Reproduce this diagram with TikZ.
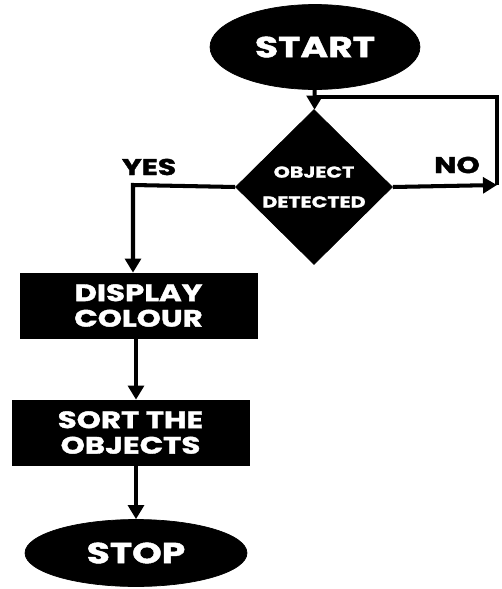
\documentclass[tikz,border=0pt]{standalone}
\usepackage{fontspec}
\newfontfamily\flowfont{Poppins}[BoldFont={* Bold}, BoldFeatures={FakeBold=1.6}, FakeStretch=1.3]
\usetikzlibrary{shapes.geometric,arrows.meta,positioning,calc}

\begin{document}
\begin{tikzpicture}[x=0.02cm, y=-0.02cm, >={Triangle[length=8pt,width=9pt]},
    term/.style={draw, fill=black, ellipse, inner sep=0pt, text=white, font=\flowfont\bfseries\fontsize{16.5}{18}\selectfont},
    proc/.style={draw, fill=black, rectangle, inner sep=0pt, minimum width=4.74cm, minimum height=1.3cm, align=center, text=white, font=\flowfont\bfseries\fontsize{13.5}{14.5}\selectfont},
    decide/.style={draw, fill=black, diamond, inner sep=0pt, minimum width=3.14cm, minimum height=3.1cm, align=center, text=white, font=\flowfont\bfseries\fontsize{9}{17}\selectfont},
    flowlabel/.style={font=\flowfont\bfseries\fontsize{13}{14}\selectfont},
    flow/.style={line width=2.3pt}]
    \useasboundingbox (0,0) rectangle (502,589);
    % Terminals
    \node[term, minimum width=4.2cm, minimum height=1.7cm] (start) at (315,47) {START};
    \node[term, minimum width=4.44cm, minimum height=1.34cm] (stop) at (136,553) {STOP};
    % Decision
    \node[decide] (detect) at (314,187) {OBJECT\\DETECTED};
    % Processes
    \node[proc] (display) at (138.5,305.5) {DISPLAY\\COLOUR};
    \node[proc] (sort) at (130.5,432.5) {SORT THE\\OBJECTS};
    % Labels
    \node[flowlabel] (yeslbl) at (149,167) {YES};
    \node[flowlabel] (nolbl) at (457,165) {NO};
    % Corners
    \coordinate (loop) at (315,97);
    \coordinate (nocorner) at (497,185);
    \coordinate (yescorner) at (133,185);
    % Arrows
    \draw[flow, ->] (start) -- (detect);
    \draw[flow, ->] (detect.east) -- (nocorner);
    \draw[flow] (nocorner) |- (loop);
    \draw[flow, ->] (detect.west) -- (yescorner) -- (yescorner |- display.north);
    \draw[flow, ->] (display.south -| stop) -- (sort.north -| stop);
    \draw[flow, ->] (sort.south -| stop) -- (stop);
\end{tikzpicture}
\end{document}
